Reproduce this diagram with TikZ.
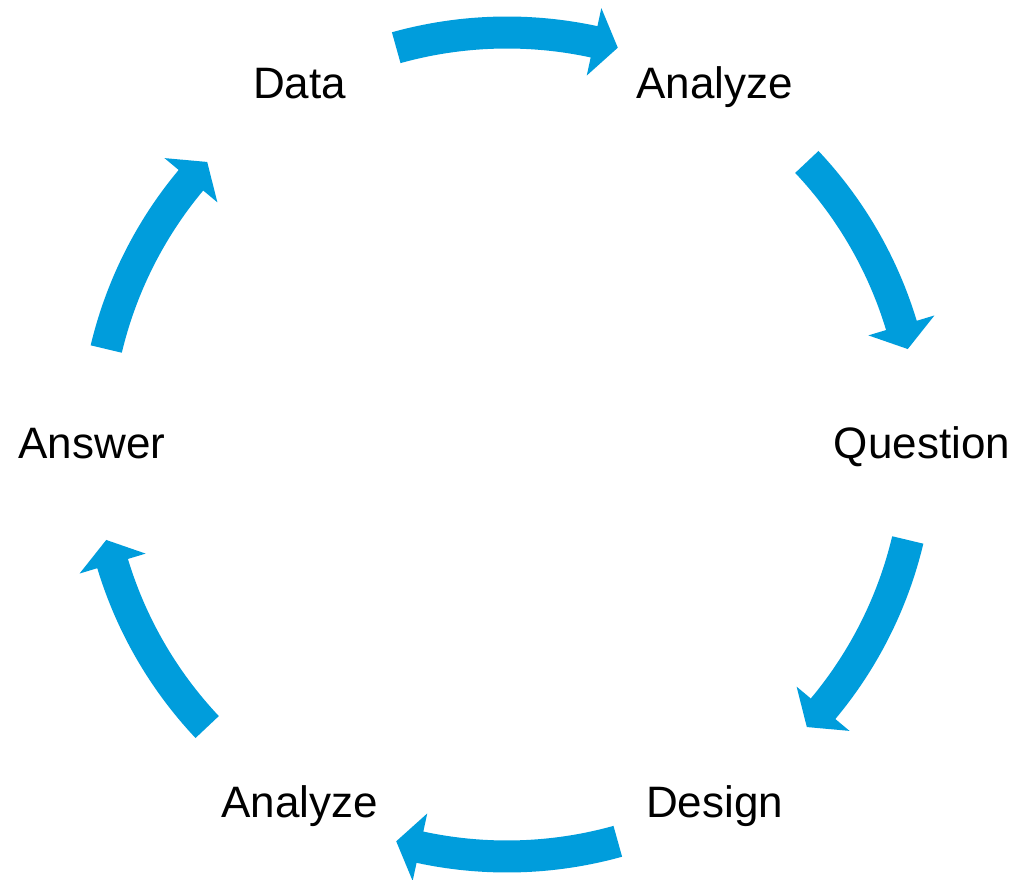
\documentclass[tikz,border=0pt]{standalone}
\usepackage{fontspec}
\setmainfont{Liberation Sans}
\usetikzlibrary{calc}
\definecolor{cycleblue}{RGB}{0,157,220}
\tikzset{
  stagelabel/.style={inner sep=0pt, text height=31.5pt, text depth=0pt,
    font=\fontsize{44}{52}\selectfont, text=black},
  arrowfill/.style={fill=cycleblue, draw=none}
}
% Curved block arrow on the ring around (c), running clockwise
% from angle #1 (tail) to angle #2 (tip).
\newcommand\cyclearrow[2]{%
  \fill[arrowfill, shift={(c)}]
    (#1:428pt) arc[start angle=#1, end angle=#2+3.4, radius=428pt]
    -- (#2+3.4:446.5pt) -- (#2:412pt) -- (#2+3.4:377.5pt)
    -- (#2+3.4:396pt) arc[start angle=#2+3.4, end angle=#1, radius=396pt]
    -- cycle;}
\begin{document}
\begin{tikzpicture}[x=1pt,y=1pt]
  \useasboundingbox[fill=white] (0,0) rectangle (1025,879);
  \coordinate (c) at (507,434.5);

  % stage labels around the ring
  \node[stagelabel] (data)     at ($(c)+(120:415)+(0,2)$) {Data};
  \node[stagelabel] (analyze1) at ($(c)+(60:415)+(0,2)$)  {Analyze};
  \node[stagelabel] (question) at ($(c)+(0:415)+(0,2)$)   {Question};
  \node[stagelabel] (design)   at ($(c)+(-60:415)+(0,2)$) {Design};
  \node[stagelabel] (analyze2) at ($(c)+(-120:415)+(0,2)$){Analyze};
  \node[stagelabel] (answer)   at ($(c)+(180:415)+(0,2)$) {Answer};

  % arrows between consecutive stages
  \cyclearrow{105.6}{74.4}     % data -> analyze1
  \cyclearrow{43.3}{13.4}      % analyze1 -> question
  \cyclearrow{-13.4}{-43.3}    % question -> design
  \cyclearrow{-74.4}{-105.6}   % design -> analyze2
  \cyclearrow{-136.7}{-166.6}  % analyze2 -> answer
  \cyclearrow{166.6}{136.7}    % answer -> data
\end{tikzpicture}
\end{document}
